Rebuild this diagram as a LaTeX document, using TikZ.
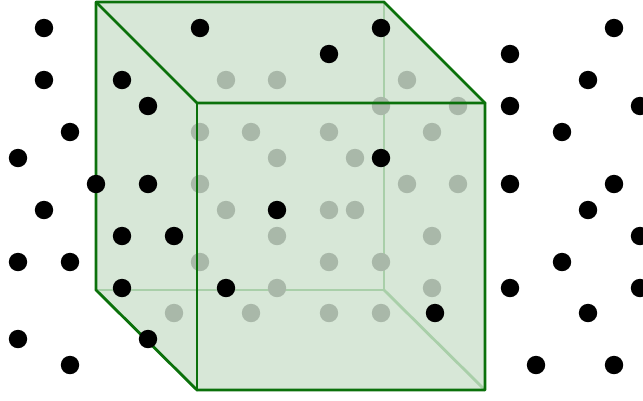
\documentclass[tikz,border=0pt]{standalone}
\definecolor{cubefill}{HTML}{D7E7D7}
\definecolor{cubeedge}{HTML}{0B710B}
\definecolor{backedge}{HTML}{A9CFA9}
\definecolor{innerdot}{HTML}{A9B8A9}
\tikzset{
  frontedge/.style={draw=cubeedge,line width=2.8pt,line join=round,line cap=round},
  hiddenedge/.style={draw=backedge,line width=2.8pt,line cap=round},
  outerdot/.style={fill=black},
  grayeddot/.style={fill=innerdot}
}
\begin{document}
\begin{tikzpicture}[x=1pt,y=-1pt]
\useasboundingbox (0,0) rectangle (643,400);
\clip (0,0) rectangle (643,400);
\coordinate (b1) at (96,2);
\coordinate (b2) at (384,2);
\coordinate (b3) at (384,290);
\coordinate (b4) at (96,290);
\coordinate (f1) at (197,103);
\coordinate (f2) at (485,103);
\coordinate (f3) at (485,390);
\coordinate (f4) at (197,390);
\fill[cubefill] (b1) -- (b2) -- (f2) -- (f3) -- (f4) -- (b4) -- cycle;
\draw[hiddenedge] (b2) -- (b3) -- (b4);
\draw[hiddenedge] (b3) -- (f3);
\foreach \x/\y in {226/80,277/80,407/80,381/106,458/106,200/132,251/132,329/132,432/132,277/158,355/158,200/184,407/184,458/184,226/210,329/210,355/210,277/236,432/236,200/262,329/262,381/262,277/288,432/288,174/313,251/313,329/313,381/313}
  \fill[grayeddot] (\x,\y) circle (9.2);
\draw[frontedge] (b4) -- (b1) -- (b2) -- (f2) -- (f3) -- (f4) -- cycle;
\draw[frontedge] (b1) -- (f1) -- (f2);
\draw[frontedge] (f1) -- (f4);
\foreach \x/\y in {44/28,44/80,122/80,148/106,70/132,18/158,96/184,148/184,44/210,122/236,174/236,18/262,70/262,122/288,226/288,18/339,70/365,148/339,200/28,329/54,381/28,381/158,277/210,435/313,510/54,614/28,588/80,510/106,640/106,562/132,510/184,614/184,588/210,640/236,562/262,510/288,640/288,588/313,536/365,614/365}
  \fill[outerdot] (\x,\y) circle (9.2);
\end{tikzpicture}
\end{document}
